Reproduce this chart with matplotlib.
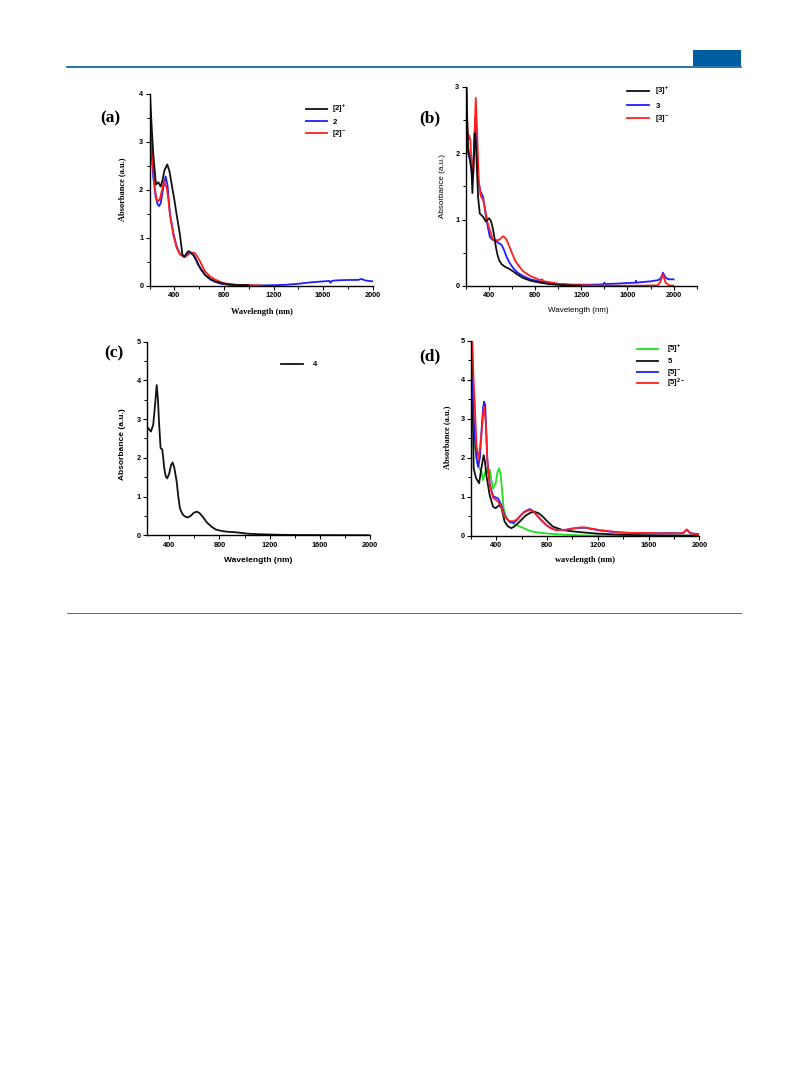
import matplotlib
matplotlib.use("Agg")
import matplotlib.pyplot as plt
from matplotlib.lines import Line2D
from matplotlib.patches import Rectangle
from matplotlib.ticker import MultipleLocator

# ---------------- data ----------------
# panel (a)
wl_a_plus = [204, 218, 231, 252, 271, 290, 305, 320, 343, 360, 379, 400, 419, 446, 465, 481, 495, 513, 530, 553, 575, 594, 620, 648, 690, 728, 780, 836, 900, 1000]
abs_a_plus = [3.99, 3.29, 2.73, 2.11, 2.16, 2.07, 2.2, 2.4, 2.53, 2.4, 2.11, 1.8, 1.48, 1.06, 0.65, 0.6, 0.66, 0.72, 0.7, 0.65, 0.55, 0.44, 0.33, 0.23, 0.14, 0.09, 0.05, 0.03, 0.015, 0.01]
wl_a_neu = [200, 215, 231, 250, 265, 277, 290, 311, 330, 345, 365, 392, 419, 446, 481, 500, 513, 530, 553, 575, 594, 620, 648, 690, 728, 780, 836, 900, 1000, 1100, 1200, 1300, 1400, 1500, 1600, 1650, 1660, 1670, 1700, 1800, 1880, 1910, 1940, 2000]
abs_a_neu = [3.5, 2.8, 2.25, 1.85, 1.7, 1.66, 1.72, 2.04, 2.28, 2.1, 1.5, 1.1, 0.82, 0.66, 0.6, 0.66, 0.7, 0.68, 0.64, 0.54, 0.43, 0.32, 0.22, 0.13, 0.08, 0.04, 0.02, 0.01, 0.005, 0.005, 0.01, 0.02, 0.04, 0.07, 0.09, 0.1, 0.06, 0.1, 0.11, 0.12, 0.12, 0.14, 0.11, 0.09]
wl_a_minus = [200, 215, 231, 245, 258, 271, 285, 298, 317, 339, 352, 365, 392, 419, 446, 481, 505, 527, 550, 567, 587, 607, 628, 648, 690, 728, 780, 836, 900, 1000, 1100]
abs_a_minus = [3.7, 2.95, 2.39, 2.0, 1.8, 1.76, 1.82, 1.97, 2.18, 2.04, 1.8, 1.48, 1.06, 0.79, 0.65, 0.6, 0.63, 0.68, 0.69, 0.68, 0.6, 0.51, 0.4, 0.3, 0.19, 0.13, 0.07, 0.035, 0.02, 0.01, 0.005]

# panel (b)
wl_b_plus = [206, 213, 220, 235, 250, 258, 268, 278, 286, 293, 307, 322, 340, 351, 374, 390, 403, 418, 432, 447, 461, 475, 489, 510, 539, 575, 611, 650, 698, 760, 843, 920, 1017, 1100, 1200]
abs_b_plus = [3.0, 2.5, 2.1, 1.92, 1.75, 1.40, 1.8, 2.3, 2.2, 1.95, 1.34, 1.09, 1.06, 1.04, 0.97, 1.0, 1.02, 0.98, 0.89, 0.75, 0.59, 0.47, 0.39, 0.33, 0.29, 0.26, 0.22, 0.17, 0.12, 0.08, 0.05, 0.03, 0.015, 0.01, 0.005]
wl_b_neu = [206, 213, 220, 241, 258, 270, 284, 295, 307, 328, 340, 351, 380, 409, 430, 452, 481, 510, 530, 554, 580, 611, 650, 698, 760, 843, 920, 1000, 1100, 1200, 1300, 1390, 1400, 1410, 1500, 1600, 1670, 1675, 1680, 1700, 1800, 1870, 1890, 1908, 1925, 1943, 1970, 2000]
abs_b_neu = [2.9, 2.3, 2.0, 1.88, 1.6, 2.0, 2.55, 2.1, 1.6, 1.42, 1.38, 1.34, 0.99, 0.74, 0.7, 0.69, 0.65, 0.62, 0.55, 0.44, 0.35, 0.27, 0.2, 0.15, 0.1, 0.07, 0.05, 0.03, 0.02, 0.02, 0.02, 0.025, 0.05, 0.03, 0.035, 0.045, 0.05, 0.08, 0.05, 0.055, 0.07, 0.09, 0.12, 0.2, 0.14, 0.11, 0.1, 0.1]
wl_b_minus = [206, 215, 222, 229, 240, 250, 264, 275, 287, 298, 313, 328, 340, 351, 374, 390, 409, 437, 460, 481, 500, 524, 545, 568, 595, 626, 660, 698, 760, 843, 860, 880, 920, 1017, 1100, 1200, 1300, 1400, 1500, 1700, 1860, 1885, 1908, 1930, 1960, 2000]
abs_b_minus = [3.0, 2.4, 2.2, 2.27, 2.2, 1.88, 1.65, 2.2, 2.83, 2.35, 1.6, 1.37, 1.32, 1.3, 1.1, 0.95, 0.84, 0.69, 0.69, 0.69, 0.71, 0.75, 0.72, 0.64, 0.52, 0.39, 0.3, 0.22, 0.15, 0.09, 0.1, 0.07, 0.06, 0.03, 0.02, 0.012, 0.008, 0.005, 0.005, 0.005, 0.01, 0.06, 0.18, 0.05, 0.01, 0.005]

# panel (c)
wl_c = [225, 233, 254, 272, 285, 300, 310, 318, 331, 344, 352, 360, 372, 384, 400, 415, 427, 440, 459, 472, 485, 500, 512, 530, 547, 570, 595, 618, 640, 671, 700, 738, 770, 818, 870, 924, 980, 1030, 1100, 1200, 1300, 1400, 1600, 1800, 2000]
abs_c = [2.8, 2.76, 2.68, 2.85, 3.3, 3.88, 3.5, 2.94, 2.25, 2.22, 2.0, 1.73, 1.52, 1.47, 1.6, 1.82, 1.88, 1.75, 1.39, 1.0, 0.70, 0.58, 0.52, 0.48, 0.46, 0.5, 0.58, 0.61, 0.58, 0.46, 0.33, 0.22, 0.15, 0.11, 0.09, 0.08, 0.06, 0.04, 0.03, 0.02, 0.012, 0.008, 0.005, 0.003, 0.002]

# panel (d)
wl_d_plus = [209, 220, 230, 250, 270, 282, 295, 308, 321, 335, 347, 360, 374, 395, 410, 421, 432, 439, 457, 479, 500, 531, 570, 610, 650, 689, 750, 847, 950, 1100, 1300, 1500, 1800, 2000]
abs_d_plus = [3.5, 2.8, 2.3, 1.9, 1.7, 1.65, 1.43, 1.6, 1.73, 1.6, 1.7, 1.45, 1.22, 1.35, 1.65, 1.73, 1.6, 1.39, 0.71, 0.45, 0.38, 0.32, 0.26, 0.21, 0.15, 0.11, 0.08, 0.05, 0.03, 0.015, 0.01, 0.005, 0.005, 0.005]
wl_d_neu = [209, 215, 221, 240, 264, 280, 300, 310, 321, 347, 374, 395, 421, 440, 453, 465, 490, 518, 545, 584, 630, 670, 702, 735, 768, 800, 846, 925, 1000, 1056, 1200, 1400, 1600, 1800, 2000]
abs_d_neu = [4.7, 3.0, 1.73, 1.48, 1.35, 1.7, 2.07, 1.9, 1.56, 1.05, 0.75, 0.71, 0.79, 0.72, 0.54, 0.37, 0.25, 0.2, 0.25, 0.37, 0.52, 0.6, 0.62, 0.58, 0.49, 0.38, 0.24, 0.15, 0.12, 0.1, 0.06, 0.03, 0.02, 0.015, 0.01]
wl_d_minus = [209, 220, 229, 243, 256, 270, 285, 296, 303, 312, 320, 329, 347, 374, 413, 439, 465, 505, 536, 560, 590, 620, 662, 690, 715, 750, 794, 830, 872, 951, 1000, 1061, 1100, 1150, 1219, 1300, 1376, 1450, 1560, 1700, 1850, 1875, 1901, 1930, 1960, 2000]
abs_d_minus = [4.04, 3.2, 2.59, 2.0, 1.77, 2.0, 2.8, 3.3, 3.44, 3.35, 2.7, 1.95, 1.35, 1.02, 0.96, 0.8, 0.52, 0.36, 0.34, 0.4, 0.52, 0.62, 0.69, 0.64, 0.55, 0.42, 0.28, 0.2, 0.15, 0.16, 0.19, 0.21, 0.21, 0.18, 0.14, 0.11, 0.09, 0.08, 0.07, 0.07, 0.07, 0.08, 0.16, 0.07, 0.06, 0.05]
wl_d_minus2 = [209, 220, 229, 243, 261, 282, 295, 303, 316, 329, 347, 374, 413, 439, 465, 505, 536, 560, 590, 620, 662, 690, 715, 750, 794, 830, 872, 951, 1000, 1061, 1100, 1150, 1219, 1300, 1376, 1450, 1560, 1700, 1850, 1875, 1901, 1930, 1960, 2000]
abs_d_minus2 = [5.2, 4.0, 3.44, 2.33, 1.95, 2.59, 3.1, 3.31, 2.93, 1.9, 1.31, 0.98, 0.88, 0.75, 0.49, 0.38, 0.38, 0.42, 0.52, 0.61, 0.67, 0.63, 0.54, 0.42, 0.28, 0.2, 0.15, 0.16, 0.19, 0.22, 0.22, 0.19, 0.15, 0.12, 0.09, 0.08, 0.08, 0.07, 0.07, 0.08, 0.17, 0.07, 0.05, 0.03]

labels_a = [r'$\mathbf{[2]^{+}}$', r'$\mathbf{2}$', r'$\mathbf{[2]^{-}}$']
labels_b = [r'$\mathbf{[3]^{+}}$', r'$\mathbf{3}$', r'$\mathbf{[3]^{-}}$']
labels_c = [r'$\mathbf{4}$']
labels_d = [r'$\mathbf{[5]^{+}}$', r'$\mathbf{5}$', r'$\mathbf{[5]^{-}}$', r'$\mathbf{[5]^{2-}}$']

# ---------------- styling ----------------
W, H = 809, 1067
BLACK, BLUE, RED, GREEN = '#111111', '#1f1fff', '#ff1f1f', '#20e020'
SERIF = ['Liberation Serif', 'DejaVu Serif']
SANS = ['Liberation Sans', 'DejaVu Sans']
plt.rcParams['mathtext.fontset'] = 'custom'
plt.rcParams['mathtext.bf'] = 'Liberation Sans:bold'
plt.rcParams['mathtext.rm'] = 'Liberation Sans'

LW = 1.3

fig = plt.figure(figsize=(W / 100, H / 100), dpi=100)


def fx(px):
    return px / W


def fy(py):
    return 1 - py / H


def make_axes(left, top, right, bottom, xlim, ylim, xticks, yticks):
    ax = fig.add_axes([fx(left), fy(bottom), fx(right) - fx(left), fy(top) - fy(bottom)])
    ax.set_xlim(*xlim)
    ax.set_ylim(*ylim)
    ax.spines['top'].set_visible(False)
    ax.spines['right'].set_visible(False)
    for s in ('left', 'bottom'):
        ax.spines[s].set_linewidth(1.0)
    ax.set_xticks(xticks)
    ax.set_yticks(yticks)
    ax.xaxis.set_minor_locator(MultipleLocator(200))
    ax.yaxis.set_minor_locator(MultipleLocator(0.5))
    ax.tick_params(which='major', direction='out', length=3, width=0.8, pad=1.5)
    ax.tick_params(which='minor', direction='out', length=2, width=0.7)
    for lab in ax.get_xticklabels() + ax.get_yticklabels():
        lab.set_fontfamily(SANS)
        lab.set_fontweight('bold')
        lab.set_fontsize(5.3)
    ax.patch.set_alpha(0)
    return ax


def legend(items, x1, x2, xt, ys, size=5.6):
    for (color, label), y in zip(items, ys):
        fig.add_artist(Line2D([fx(x1), fx(x2)], [fy(y), fy(y)], color=color, lw=LW))
        fig.text(fx(xt), fy(y), label, fontsize=size, va='center', ha='left')


# header decoration
fig.add_artist(Line2D([fx(67), fx(741)], [fy(66.5), fy(66.5)], color='#005da0', lw=1.2))
fig.add_artist(Rectangle((fx(693), fy(66)), fx(741) - fx(693), fy(50) - fy(66), color='#005da0', lw=0))
fig.add_artist(Line2D([fx(67), fx(741)], [fy(613), fy(613)], color='#2f72b4', lw=0.7))

# ---------------- panel (a) ----------------
ax = make_axes(149.5, 94, 372.7, 285.7, (200, 2000), (0, 4), [400, 800, 1200, 1600, 2000], [0, 1, 2, 3, 4])
ax.plot(wl_a_neu, abs_a_neu, color=BLUE, lw=LW)
ax.plot(wl_a_minus, abs_a_minus, color=RED, lw=LW)
ax.plot(wl_a_plus, abs_a_plus, color=BLACK, lw=LW)
fig.text(fx(261.7), fy(311.7), 'Wavelength (nm)', family=SERIF, weight='bold', fontsize=6, ha='center', va='center')
fig.text(fx(122.3), fy(189), 'Absorbance (a.u.)', family=SERIF, weight='bold', fontsize=6, ha='center', va='center', rotation=90)
fig.text(fx(110), fy(118), '(a)', family=SERIF, weight='bold', fontsize=12.5, ha='center', va='center')
legend(list(zip([BLACK, BLUE, RED], labels_a)), 306, 327, 331.5, [109.3, 121.3, 133.3])

# ---------------- panel (b) ----------------
ax = make_axes(465.7, 86.7, 696.7, 286, (200, 2200), (0, 3), [400, 800, 1200, 1600, 2000], [0, 1, 2, 3])
ax.plot(wl_b_neu, abs_b_neu, color=BLUE, lw=LW)
ax.plot(wl_b_minus, abs_b_minus, color=RED, lw=LW)
ax.plot(wl_b_plus, abs_b_plus, color=BLACK, lw=LW)
fig.text(fx(578), fy(310), 'Wavelength (nm)', family=SANS, fontsize=5.8, ha='center', va='center')
fig.text(fx(442), fy(186), 'Absorbance (a.u.)', family=SANS, fontsize=5.8, ha='center', va='center', rotation=90)
fig.text(fx(430), fy(118), '(b)', family=SERIF, weight='bold', fontsize=12.5, ha='center', va='center')
legend(list(zip([BLACK, BLUE, RED], labels_b)), 626.7, 649.3, 655, [91, 105, 118.3])

# ---------------- panel (c) ----------------
ax = make_axes(147.3, 341.7, 370, 535.3, (225, 2000), (0, 5), [400, 800, 1200, 1600, 2000], [0, 1, 2, 3, 4, 5])
ax.plot(wl_c, abs_c, color=BLACK, lw=LW)
fig.text(fx(258), fy(560), 'Wavelength (nm)', family=SANS, weight='bold', fontsize=6, ha='center', va='center')
fig.text(fx(122), fy(444), 'Absorbance (a.u.)', family=SANS, weight='bold', fontsize=6, ha='center', va='center', rotation=90)
fig.text(fx(114), fy(353), '(c)', family=SERIF, weight='bold', fontsize=12.5, ha='center', va='center')
legend(list(zip([BLACK], labels_c)), 281, 303, 311.7, [364])

# ---------------- panel (d) ----------------
ax = make_axes(471, 340.7, 699.3, 536, (200, 2000), (0, 5), [400, 800, 1200, 1600, 2000], [0, 1, 2, 3, 4, 5])
ax.plot(wl_d_plus, abs_d_plus, color=GREEN, lw=LW)
ax.plot(wl_d_neu, abs_d_neu, color=BLACK, lw=LW)
ax.plot(wl_d_minus, abs_d_minus, color=BLUE, lw=LW)
ax.plot(wl_d_minus2, abs_d_minus2, color=RED, lw=LW)
fig.text(fx(585), fy(560), 'wavelength (nm)', family=SERIF, weight='bold', fontsize=6, ha='center', va='center')
fig.text(fx(447), fy(437), 'Absorbance (a.u.)', family=SERIF, weight='bold', fontsize=6, ha='center', va='center', rotation=90)
fig.text(fx(430), fy(356), '(d)', family=SERIF, weight='bold', fontsize=12.5, ha='center', va='center')
legend(list(zip([GREEN, BLACK, BLUE, RED], labels_d)), 636.7, 658.3, 666.7, [349, 360.7, 372.3, 383.3])

fig.savefig('out.png', dpi=100)
